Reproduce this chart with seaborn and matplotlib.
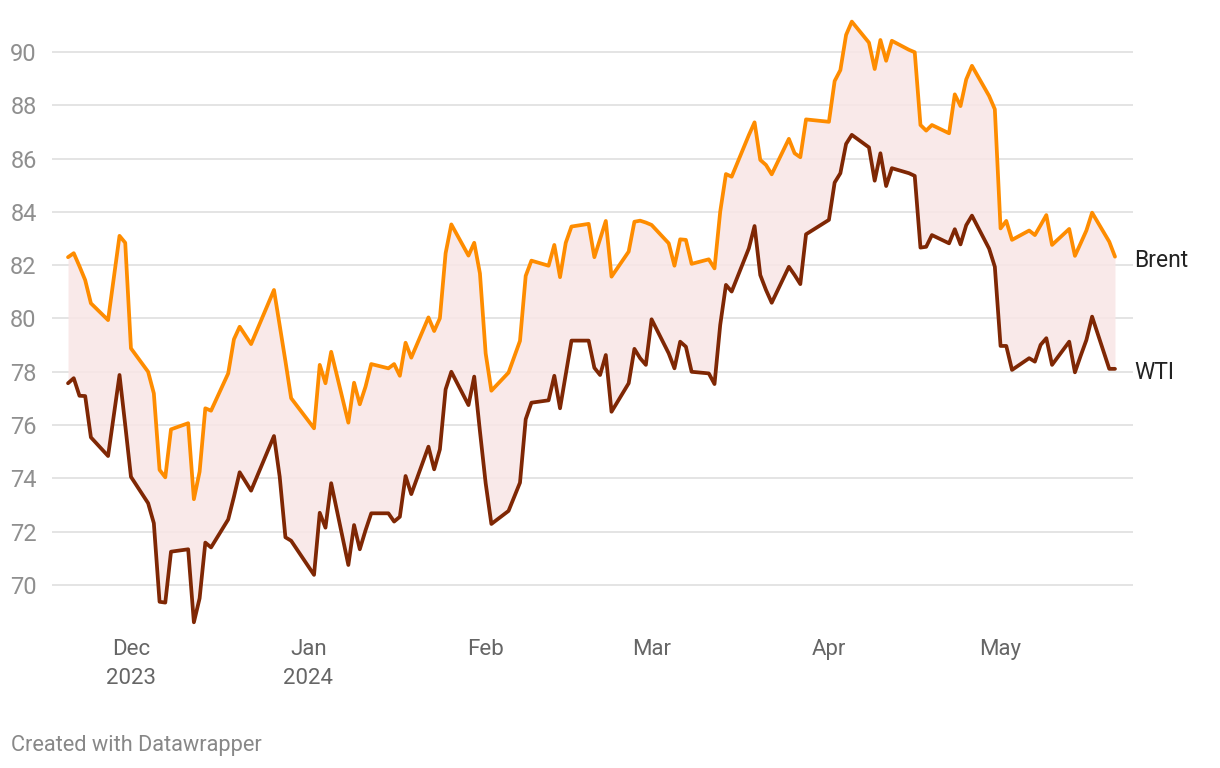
import numpy as np
import pandas as pd
import matplotlib
matplotlib.use("Agg")
import matplotlib.pyplot as plt
import matplotlib.dates as mdates
import seaborn as sns

dates = [
    "2023-11-20", "2023-11-21", "2023-11-22", "2023-11-23", "2023-11-24",
    "2023-11-27", "2023-11-29", "2023-11-30", "2023-12-01", "2023-12-04",
    "2023-12-05", "2023-12-06", "2023-12-07", "2023-12-08", "2023-12-11",
    "2023-12-12", "2023-12-13", "2023-12-14", "2023-12-15", "2023-12-18",
    "2023-12-19", "2023-12-20", "2023-12-22", "2023-12-26", "2023-12-27",
    "2023-12-28", "2023-12-29", "2024-01-02", "2024-01-03", "2024-01-04",
    "2024-01-05", "2024-01-08", "2024-01-09", "2024-01-10", "2024-01-11",
    "2024-01-12", "2024-01-15", "2024-01-16", "2024-01-17", "2024-01-18",
    "2024-01-19", "2024-01-22", "2024-01-23", "2024-01-24", "2024-01-25",
    "2024-01-26", "2024-01-29", "2024-01-30", "2024-01-31", "2024-02-01",
    "2024-02-02", "2024-02-05", "2024-02-07", "2024-02-08", "2024-02-09",
    "2024-02-12", "2024-02-13", "2024-02-14", "2024-02-15", "2024-02-16",
    "2024-02-19", "2024-02-20", "2024-02-21", "2024-02-22", "2024-02-23",
    "2024-02-26", "2024-02-27", "2024-02-28", "2024-02-29", "2024-03-01",
    "2024-03-04", "2024-03-05", "2024-03-06", "2024-03-07", "2024-03-08",
    "2024-03-11", "2024-03-12", "2024-03-13", "2024-03-14", "2024-03-15",
    "2024-03-18", "2024-03-19", "2024-03-20", "2024-03-21", "2024-03-22",
    "2024-03-25", "2024-03-26", "2024-03-27", "2024-03-28", "2024-04-01",
    "2024-04-02", "2024-04-03", "2024-04-04", "2024-04-05", "2024-04-08",
    "2024-04-09", "2024-04-10", "2024-04-11", "2024-04-12", "2024-04-15",
    "2024-04-16", "2024-04-17", "2024-04-18", "2024-04-19", "2024-04-22",
    "2024-04-23", "2024-04-24", "2024-04-25", "2024-04-26", "2024-04-29",
    "2024-04-30", "2024-05-01", "2024-05-02", "2024-05-03", "2024-05-06",
    "2024-05-07", "2024-05-08", "2024-05-09", "2024-05-10", "2024-05-13",
    "2024-05-14", "2024-05-15", "2024-05-16", "2024-05-17", "2024-05-20",
    "2024-05-21",
]

brent = [
    82.30, 82.45, 81.96, 81.44, 80.57,
    79.94, 83.10, 82.84, 78.88, 78.00,
    77.19, 74.32, 74.04, 75.84, 76.07,
    73.22, 74.25, 76.63, 76.54, 77.94,
    79.22, 79.69, 79.04, 81.07, 79.74,
    78.40, 77.01, 75.88, 78.26, 77.57,
    78.75, 76.09, 77.59, 76.78, 77.44,
    78.29, 78.13, 78.29, 77.85, 79.09,
    78.53, 80.04, 79.53, 80.01, 82.45,
    83.53, 82.36, 82.84, 81.69, 78.69,
    77.29, 77.97, 79.16, 81.60, 82.17,
    81.98, 82.76, 81.55, 82.84, 83.45,
    83.55, 82.30, 82.98, 83.66, 81.57,
    82.51, 83.63, 83.67, 83.60, 83.51,
    82.82, 81.98, 82.97, 82.95, 82.05,
    82.22, 81.88, 84.01, 85.42, 85.32,
    86.88, 87.36, 85.95, 85.76, 85.41,
    86.74, 86.20, 86.05, 87.47, 87.38,
    88.91, 89.32, 90.64, 91.14, 90.35,
    89.36, 90.45, 89.67, 90.42, 90.08,
    89.99, 87.26, 87.05, 87.26, 86.95,
    88.41, 87.97, 88.97, 89.48, 88.35,
    87.85, 83.38, 83.66, 82.95, 83.30,
    83.13, 83.50, 83.88, 82.76, 83.36,
    82.35, 82.82, 83.30, 83.97, 82.88,
    82.32,
]

wti = [
    77.57, 77.76, 77.10, 77.09, 75.54,
    74.84, 77.88, 76.00, 74.06, 73.07,
    72.32, 69.37, 69.34, 71.25, 71.34,
    68.60, 69.50, 71.59, 71.41, 72.46,
    73.31, 74.23, 73.54, 75.59, 74.06,
    71.79, 71.66, 70.38, 72.71, 72.15,
    73.82, 70.75, 72.25, 71.34, 72.05,
    72.69, 72.69, 72.38, 72.56, 74.09,
    73.41, 75.19, 74.34, 75.09, 77.34,
    78.00, 76.75, 77.82, 75.77, 73.82,
    72.29, 72.78, 73.84, 76.22, 76.84,
    76.93, 77.85, 76.63, 77.90, 79.17,
    79.17, 78.15, 77.88, 78.63, 76.50,
    77.57, 78.86, 78.51, 78.26, 79.97,
    78.69, 78.13, 79.13, 78.94, 78.00,
    77.94, 77.54, 79.76, 81.26, 81.01,
    82.63, 83.47, 81.63, 81.07, 80.59,
    81.94, 81.63, 81.29, 83.16, 83.70,
    85.10, 85.45, 86.55, 86.89, 86.42,
    85.17, 86.20, 84.97, 85.64, 85.45,
    85.35, 82.66, 82.69, 83.13, 82.82,
    83.35, 82.78, 83.50, 83.86, 82.62,
    81.94, 78.97, 78.97, 78.07, 78.51,
    78.38, 79.01, 79.26, 78.26, 79.13,
    77.98, 78.60, 79.19, 80.07, 78.11,
    78.11,
]

series_names = ["Brent", "WTI"]
y_ticks = [70, 72, 74, 76, 78, 80, 82, 84, 86, 88, 90]
x_tick_dates = ["2023-12-01", "2024-01-01", "2024-02-01", "2024-03-01", "2024-04-01", "2024-05-01"]
x_tick_labels = ["Dec\n2023", "Jan\n2024", "Feb", "Mar", "Apr", "May"]

BRENT_C = "#fe8c00"
WTI_C = "#7f2704"

sns.set_theme(style="white")
plt.rcParams["font.family"] = ["Roboto", "DejaVu Sans"]

df = pd.DataFrame({"date": pd.to_datetime(dates), "Brent": brent, "WTI": wti})
long = df.melt(id_vars="date", value_vars=series_names, var_name="series", value_name="price")

W, H = 1220, 768
fig = plt.figure(figsize=(W / 100, H / 100), dpi=100)
left, right, top, bottom = 52, 1133, 12, 630.3
ax = fig.add_axes([left / W, 1 - bottom / H, (right - left) / W, (bottom - top) / H])

ax.fill_between(df["date"], df["WTI"], df["Brent"], color="#f9e6e6", alpha=0.85, linewidth=0, zorder=1)
sns.lineplot(data=long, x="date", y="price", hue="series", palette={"Brent": BRENT_C, "WTI": WTI_C},
             linewidth=2.7, legend=False, ax=ax, zorder=3)

ax.set_ylim(68.3, 91.5)
x0 = pd.Timestamp(dates[0]) - pd.Timedelta(days=2.8)
x1 = pd.Timestamp(dates[-1]) + pd.Timedelta(days=3.15)
ax.set_xlim(x0, x1)

ax.set_yticks(y_ticks)
ax.set_yticklabels([str(v) for v in y_ticks])
ax.set_xticks(pd.to_datetime(x_tick_dates))
ax.set_xticklabels(x_tick_labels, linespacing=1.5)
ax.tick_params(axis="y", length=0, pad=11, labelsize=17, labelcolor="#8f8f8f")
ax.tick_params(axis="x", length=0, pad=6.5, labelsize=16, labelcolor="#666666")
ax.grid(axis="y", color="#e2e2e2", linewidth=1.3, zorder=0)
ax.grid(axis="x", visible=False)
for s in ax.spines.values():
    s.set_visible(False)
ax.set_xlabel("")
ax.set_ylabel("")

for name, vals in (("Brent", brent), ("WTI", wti)):
    ax.annotate(name, xy=(1.0, vals[-1]), xycoords=ax.get_yaxis_transform(),
                xytext=(1.0, -2.5), textcoords="offset points", fontsize=16.5,
                color="#222222", va="center", ha="left")

fig.text(11 / W, 1 - 745 / H, "Created with Datawrapper", fontsize=15.7, color="#888888",
         va="center", ha="left")

fig.savefig("out.png", dpi=100)
